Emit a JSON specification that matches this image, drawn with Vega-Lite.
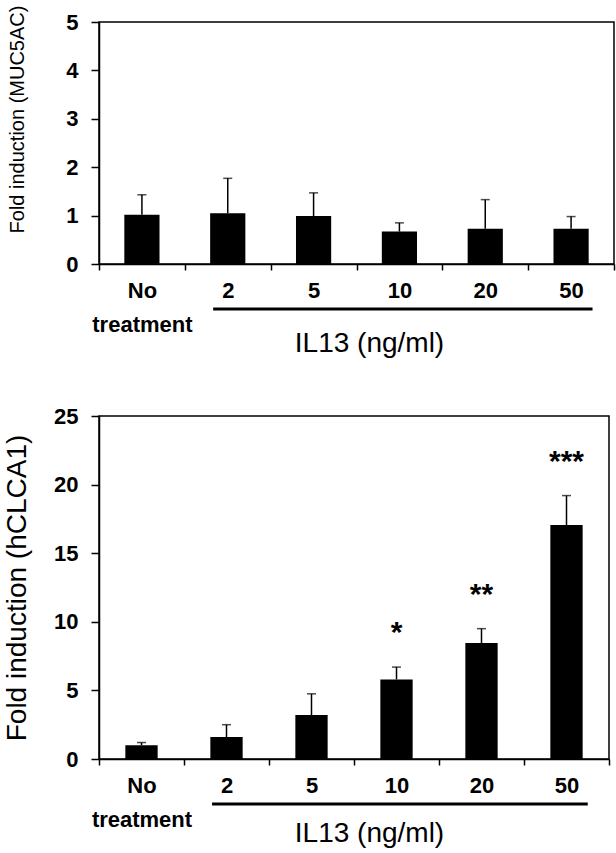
{
  "$schema": "https://vega.github.io/schema/vega-lite/v6.json",
  "background": "white",
  "padding": {"left": 2, "top": 4, "right": 0, "bottom": 0},
  "bounds": "flush",
  "spacing": 152,
  "config": {
    "font": "Liberation Sans",
    "view": {"stroke": "black", "strokeWidth": 1.5},
    "axis": {
      "grid": false,
      "domainColor": "black",
      "domainWidth": 1.5,
      "tickColor": "black",
      "tickWidth": 1.5,
      "labelColor": "black",
      "titleColor": "black",
      "labelFont": "Liberation Sans",
      "labelFontWeight": "bold",
      "labelFontSize": 22,
      "titleFont": "Liberation Sans",
      "titleFontWeight": "normal"
    }
  },
  "datasets": {
    "muc": [
      {"treatment": "No", "mean": 1.02, "upper": 1.43},
      {"treatment": "2", "mean": 1.05, "upper": 1.77},
      {"treatment": "5", "mean": 0.99, "upper": 1.47},
      {"treatment": "10", "mean": 0.67, "upper": 0.85},
      {"treatment": "20", "mean": 0.73, "upper": 1.33},
      {"treatment": "50", "mean": 0.73, "upper": 0.98}
    ],
    "clca": [
      {"treatment": "No", "mean": 1.0, "upper": 1.2, "sig": ""},
      {"treatment": "2", "mean": 1.6, "upper": 2.5, "sig": ""},
      {"treatment": "5", "mean": 3.2, "upper": 4.75, "sig": ""},
      {"treatment": "10", "mean": 5.8, "upper": 6.7, "sig": "*"},
      {"treatment": "20", "mean": 8.45, "upper": 9.5, "sig": "**"},
      {"treatment": "50", "mean": 17.05, "upper": 19.2, "sig": "***"}
    ],
    "group": [{"from": "2", "to": "50", "name": "IL13 (ng/ml)"}]
  },
  "vconcat": [
    {
      "width": 515,
      "height": 242,
      "layer": [
        {
          "data": {"name": "muc"},
          "mark": {"type": "bar", "color": "black", "width": {"band": 0.41}},
          "encoding": {
            "x": {
              "field": "treatment", "type": "nominal",
              "scale": {"domain": ["No", "2", "5", "10", "20", "50"], "paddingInner": 0, "paddingOuter": 0},
              "axis": {
                "title": "IL13 (ng/ml)", "titleFontSize": 28, "titleX": 270, "titleY": 79, "titleBaseline": "middle",
                "labelAngle": 0, "tickBand": "extent", "tickSize": 6, "labelPadding": 10, "labelBaseline": "top",
                "labelExpr": "datum.value == 'No' ? ['No', 'treatment'] : datum.value", "labelLineHeight": 34
              }
            },
            "y": {
              "field": "mean", "type": "quantitative",
              "scale": {"domain": [0, 5], "nice": false},
              "axis": {"title": "Fold induction (MUC5AC)", "titleFontSize": 20, "values": [0, 1, 2, 3, 4, 5], "tickSize": 8, "labelPadding": 13, "titleX": -82, "titleY": 97, "titleBaseline": "middle"}
            }
          }
        },
        {
          "data": {"name": "muc"},
          "mark": {"type": "rule", "color": "black", "strokeWidth": 1.5},
          "encoding": {
            "x": {"field": "treatment", "type": "nominal"},
            "y": {"field": "mean", "type": "quantitative"},
            "y2": {"field": "upper"}
          }
        },
        {
          "data": {"name": "muc"},
          "mark": {"type": "tick", "color": "black", "size": 9, "thickness": 1.5, "orient": "horizontal"},
          "encoding": {
            "x": {"field": "treatment", "type": "nominal"},
            "y": {"field": "upper", "type": "quantitative"}
          }
        },
        {
          "data": {"name": "group"},
          "mark": {"type": "rule", "color": "black", "strokeWidth": 3, "clip": false},
          "encoding": {
            "x": {"field": "from", "type": "nominal", "bandPosition": 0.33},
            "x2": {"field": "to", "bandPosition": 0.75},
            "y": {"datum": -0.93}
          }
        },
        {
          "mark": {"type": "text", "text": "A", "fontSize": 38, "fontWeight": "bold", "color": "black", "baseline": "middle"},
          "encoding": {
            "x": {"datum": "No", "type": "nominal"},
            "y": {"datum": 4.2, "type": "quantitative"}
          }
        }
      ]
    },
    {
      "width": 510,
      "height": 343,
      "layer": [
        {
          "data": {"name": "clca"},
          "mark": {"type": "bar", "color": "black", "width": {"band": 0.38}},
          "encoding": {
            "x": {
              "field": "treatment", "type": "nominal",
              "scale": {"domain": ["No", "2", "5", "10", "20", "50"], "paddingInner": 0, "paddingOuter": 0},
              "axis": {
                "title": "IL13 (ng/ml)", "titleFontSize": 28, "titleX": 270, "titleY": 74, "titleBaseline": "middle",
                "labelAngle": 0, "tickBand": "extent", "tickSize": 6, "labelPadding": 10, "labelBaseline": "top",
                "labelExpr": "datum.value == 'No' ? ['No', 'treatment'] : datum.value", "labelLineHeight": 34
              }
            },
            "y": {
              "field": "mean", "type": "quantitative",
              "scale": {"domain": [0, 25], "nice": false},
              "axis": {"title": "Fold induction (hCLCA1)", "titleFontSize": 28, "values": [0, 5, 10, 15, 20, 25], "tickSize": 8, "labelPadding": 13, "titleX": -82, "titleBaseline": "middle"}
            }
          }
        },
        {
          "data": {"name": "clca"},
          "mark": {"type": "rule", "color": "black", "strokeWidth": 1.5},
          "encoding": {
            "x": {"field": "treatment", "type": "nominal"},
            "y": {"field": "mean", "type": "quantitative"},
            "y2": {"field": "upper"}
          }
        },
        {
          "data": {"name": "clca"},
          "mark": {"type": "tick", "color": "black", "size": 9, "thickness": 1.5, "orient": "horizontal"},
          "encoding": {
            "x": {"field": "treatment", "type": "nominal"},
            "y": {"field": "upper", "type": "quantitative"}
          }
        },
        {
          "data": {"name": "clca"},
          "mark": {"type": "text", "fontSize": 30, "fontWeight": "bold", "color": "black", "baseline": "middle", "dy": -34},
          "encoding": {
            "x": {"field": "treatment", "type": "nominal"},
            "y": {"field": "upper", "type": "quantitative"},
            "text": {"field": "sig"}
          }
        },
        {
          "data": {"name": "group"},
          "mark": {"type": "rule", "color": "black", "strokeWidth": 3, "clip": false},
          "encoding": {
            "x": {"field": "from", "type": "nominal", "bandPosition": 0.33},
            "x2": {"field": "to", "bandPosition": 0.75},
            "y": {"datum": -3.28}
          }
        },
        {
          "mark": {"type": "text", "text": "B", "fontSize": 38, "fontWeight": "bold", "color": "black", "baseline": "middle"},
          "encoding": {
            "x": {"datum": "No", "type": "nominal"},
            "y": {"datum": 22.6, "type": "quantitative"}
          }
        }
      ]
    }
  ]
}
